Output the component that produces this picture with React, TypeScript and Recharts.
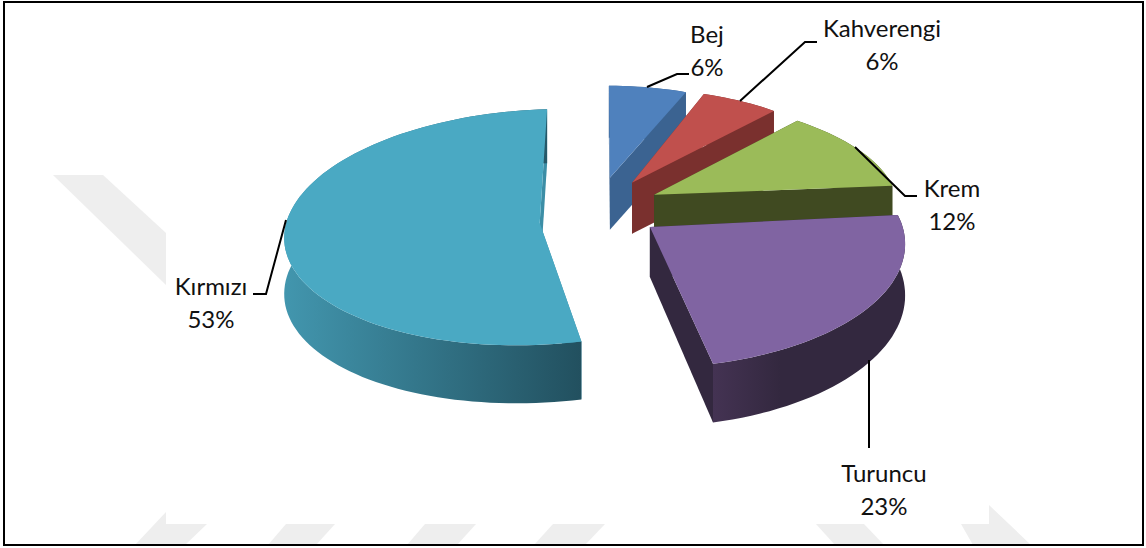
import { PieChart, Pie } from "recharts";

const names = ["Bej", "Kahverengi", "Krem", "Turuncu", "Kırmızı"];
const values = [6, 6, 12, 23, 53];

const topColors = ["#4f81bd", "#c0504d", "#9bbb59", "#8064a2", "#4aa9c3"];
const radialColors = ["#3b6391", "#7a302e", "#404a21", "#33283f", "#3c8ea6"];
const wallStops = [
  [["0%", "#3b6391"], ["100%", "#3b6391"]],
  [["0%", "#7a302e"], ["100%", "#7a302e"]],
  [["0%", "#404a21"], ["100%", "#404a21"]],
  [["0%", "#443353"], ["35%", "#33283f"], ["100%", "#33283f"]],
  [["0%", "#4296ae"], ["100%", "#22505f"]],
];

// how far each slice is pulled out, in pie radii (right, towards viewer)
const explode = [
  [0.04, -0.33],
  [0.129, -0.285],
  [0.216, -0.18],
  [0.194, 0.09],
  [-0.235, 0.058],
];

// the 3d look differs per slice: scale, skew and perspective of its rim
const lens = [
  { sx: 0.82, shx: 0.004, sy: 0.767, shy: 0, p: 0, depth: 52 },
  { sx: 0.847, shx: 0.032, sy: 0.778, shy: -0.046, p: 0, depth: 51 },
  { sx: 0.943, shx: 0.115, sy: 0.826, shy: -0.023, p: 0, depth: 52 },
  { sx: 0.985, shx: 0.027, sy: 0.999, shy: -0.038, p: 0.15, depth: 50 },
  { sx: 1.0, shx: -0.03, sy: 0.983, shy: -0.06, p: 0.035, depth: 56 },
];

const TILT = 0.47;
const PERSPECTIVE = 0.1;

// label centre x, first baseline, leader line
const labelLayout = [
  { x: 707, y: 43, line: "647,87 677,74 689,74" },
  { x: 882, y: 37, line: "740,101 805,42 817,42" },
  { x: 952, y: 197, line: "855,147 905,196 917,196" },
  { x: 884, y: 482, line: "869,360 869,448" },
  { x: 211, y: 295, line: "286,220 266,294 253,294" },
];

// faint watermark behind the chart
const watermark = [
  "53,175 103,175 166,233 166,285",
  "135,545 166,512 166,524 207,524 185,545",
  "286,524 335,524 316,545 268,545",
  "425,524 476,524 457,545 407,545",
  "553,524 605,524 585,545 534,545",
  "816,524 864,524 884,545 835,545",
  "961,524 989,524 989,505 1031,545 973,545",
];

const data = names.map((name, i) => ({ name, value: values[i] }));

type Pt = { x: number; y: number; s: number };

function SliceShape(props: any) {
  const { cx, cy, outerRadius: r, startAngle, endAngle, name } = props;
  const i = names.indexOf(name);
  const [eu, ev] = explode[i];
  const l = lens[i];
  const k0 = 1 / (1 - PERSPECTIVE * ev);
  const apex: Pt = { x: cx + r * eu * k0, y: cy + r * TILT * ev * k0, s: 1 };
  const rim: Pt[] = [];
  const steps = Math.max(2, Math.ceil(Math.abs(startAngle - endAngle) / 2));
  for (let k = 0; k <= steps; k++) {
    const a = ((startAngle + ((endAngle - startAngle) * k) / steps) * Math.PI) / 180;
    const u = Math.cos(a);
    const v = -Math.sin(a);
    const s = 1 / (1 - l.p * v);
    rim.push({
      x: apex.x + r * (l.sx * u + l.shx * v) * s,
      y: apex.y + r * TILT * (l.sy * v + l.shy * u) * s,
      s,
    });
  }
  const pts = (list: { x: number; y: number }[]) =>
    list.map((p) => `${p.x.toFixed(1)},${p.y.toFixed(1)}`).join(" ");
  const down = (p: Pt) => ({ x: p.x, y: p.y + l.depth * p.s, s: p.s });
  const first = rim[0];
  const last = rim[rim.length - 1];
  const gradId = `wall-${i}`;
  return (
    <g>
      <defs>
        <linearGradient id={gradId} x1="0" y1="0" x2="1" y2="0">
          {wallStops[i].map(([offset, color]) => (
            <stop key={offset} offset={offset} stopColor={color} />
          ))}
        </linearGradient>
      </defs>
      <polygon points={pts([apex, first, down(first), down(apex)])} fill={radialColors[i]} />
      <polygon points={pts([apex, last, down(last), down(apex)])} fill={radialColors[i]} />
      <polygon points={pts([...rim, ...rim.map(down).reverse()])} fill={`url(#${gradId})`} />
      <polygon points={pts([apex, ...rim])} fill={topColors[i]} />
    </g>
  );
}

function SliceLabel(props: any) {
  const i = names.indexOf(props.name);
  const spot = labelLayout[i];
  return (
    <g>
      <polyline points={spot.line} fill="none" stroke="#000" strokeWidth={2} />
      <text x={spot.x} y={spot.y} textAnchor="middle" fontFamily="Lato" fontSize={24} fill="#111">
        {props.name}
      </text>
      <text x={spot.x} y={spot.y + 33} textAnchor="middle" fontFamily="Lato" fontSize={24} fill="#111">
        {`${Math.round(props.percent * 100)}%`}
      </text>
    </g>
  );
}

export default function App() {
  return (
    <div style={{ position: "absolute", left: 0, top: 0, width: 1146, height: 548, background: "#fff" }}>
      <svg width={1146} height={548} style={{ position: "absolute", left: 0, top: 0 }}>
        {watermark.map((p) => (
          <polygon key={p} points={p} fill="#eeeeee" />
        ))}
        <rect x={4} y={2} width={1139} height={543} fill="none" stroke="#000" strokeWidth={2} />
      </svg>
      <div style={{ position: "absolute", left: 0, top: 0 }}>
        <PieChart width={1146} height={548} margin={{ top: 0, right: 0, bottom: 0, left: 0 }}>
          <Pie
            data={data}
            dataKey="value"
            nameKey="name"
            cx={600}
            cy={216}
            outerRadius={255}
            startAngle={90}
            endAngle={-270}
            stroke="none"
            shape={SliceShape}
            label={SliceLabel}
            labelLine={false}
            isAnimationActive={false}
          />
        </PieChart>
      </div>
    </div>
  );
}
